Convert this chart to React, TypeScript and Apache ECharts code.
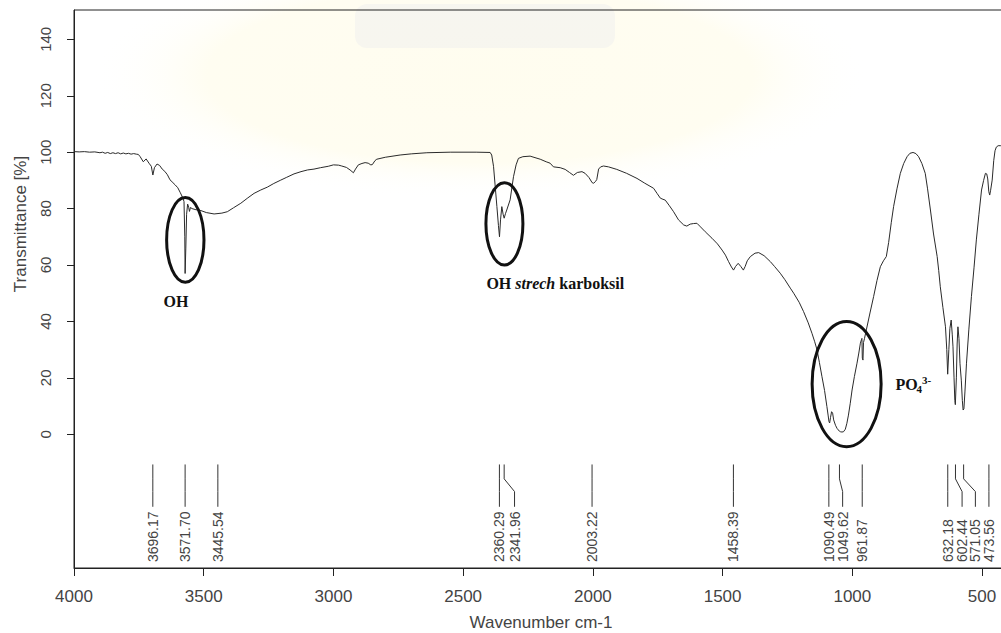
import React, { useEffect, useRef } from "react";
import * as echarts from "echarts";

// FTIR spectrum: wavenumber (cm-1) vs transmittance (%)
const wavenumbers = [
  4000, 3980, 3960, 3940, 3920, 3900, 3890, 3880, 3870, 3860, 3850, 3840, 3830, 3820, 3810, 3800, 3790, 3780, 3770, 3760,
  3752, 3745, 3733, 3722, 3711, 3702, 3696, 3690, 3680, 3670, 3660, 3650, 3640, 3630, 3622, 3610, 3600, 3590, 3581, 3576,
  3573, 3571.7, 3569, 3566, 3562, 3558, 3555, 3551, 3545, 3530, 3511, 3490, 3460, 3430, 3409, 3385, 3357, 3330, 3306, 3280,
  3255, 3230, 3203, 3180, 3152, 3125, 3100, 3075, 3050, 3020, 3000, 2980, 2968, 2950, 2936, 2923, 2915, 2904, 2890, 2878,
  2866, 2856, 2850, 2840, 2833, 2800, 2743, 2700, 2640, 2550, 2450, 2396, 2390, 2383, 2377, 2370, 2364, 2360, 2356, 2351,
  2346, 2342, 2337, 2332, 2319, 2306, 2296, 2287, 2270, 2242, 2203, 2180, 2165, 2152, 2126, 2107, 2090, 2075, 2060, 2042,
  2030, 2015, 2003, 1997, 1990, 1985, 1978, 1970, 1959, 1940, 1908, 1870, 1830, 1800, 1766, 1752, 1740, 1730, 1721, 1705,
  1689, 1670, 1650, 1638, 1625, 1612, 1599, 1585, 1567, 1541, 1520, 1502, 1489, 1477, 1466, 1458, 1450, 1440, 1430, 1420,
  1413, 1405, 1393, 1375, 1361, 1340, 1316, 1300, 1278, 1260, 1239, 1226, 1205, 1188, 1170, 1155.6, 1145, 1136, 1127, 1117,
  1107, 1098, 1093, 1090, 1087.5, 1084, 1080, 1076, 1072, 1065, 1059, 1050, 1046, 1040, 1034, 1027, 1021, 1015, 1008, 1001,
  992, 982, 975, 969, 965, 963, 961.5, 959, 957, 953, 946, 932, 918, 905, 892, 880, 869, 860, 850, 841,
  828, 815, 802, 789, 778, 766, 755, 744.5, 732, 719, 710, 699, 687, 673, 667, 661, 651, 641, 636, 632.5,
  628, 624, 619, 615, 612, 608, 605, 603, 599, 596, 593, 589, 585, 580, 576, 573, 570, 566, 560, 551,
  541, 531, 522, 512, 502, 494, 487, 482, 478, 474, 470.5, 467, 461, 455, 450, 445, 438, 428, 415, 400,
];

const transmittance = [
  100.2, 100.1, 100.2, 100.0, 100.1, 99.8, 100.0, 99.6, 99.9, 99.5, 99.8, 99.5, 99.8, 99.4, 99.7, 99.4, 99.6, 99.3, 99.5, 99.3,
  99.2, 98.4, 96.6, 97.6, 96.1, 95.0, 91.9, 94.5, 95.8, 95.3, 94.0, 93.2, 92.0, 90.2, 89.5, 88.4, 87.4, 85.6, 83.9, 82.5,
  70.0, 57.0, 66.0, 78.0, 81.6, 80.5, 79.0, 80.4, 80.0, 79.6, 79.3, 78.6, 78.1, 78.4, 78.9, 80.3, 81.9, 83.8, 85.4, 86.6,
  87.6, 88.9, 90.1, 91.1, 92.3, 93.1, 93.7, 94.0, 94.5, 95.0, 95.5, 95.4, 95.1, 94.6, 93.7, 92.7, 94.0, 95.5, 96.0, 96.3,
  96.1, 95.5, 95.6, 97.0, 97.5, 98.2, 99.0, 99.4, 99.8, 100.0, 100.0, 99.9, 99.0, 95.0, 88.4, 80.7, 74.0, 70.0, 76.0, 80.7,
  78.0, 76.6, 78.2, 79.5, 83.1, 91.3, 95.5, 97.8, 98.4, 98.6, 97.5, 96.6, 96.1, 94.8, 94.5, 93.9, 92.8, 91.8, 92.8, 93.1,
  92.5, 91.0, 89.2, 89.0, 89.6, 90.3, 94.0, 94.8, 95.1, 94.8, 93.9, 92.5, 90.7, 89.0, 87.2, 85.3, 83.7, 83.3, 83.0, 81.0,
  78.9, 76.0, 74.2, 73.8, 74.5, 74.7, 74.8, 73.5, 71.8, 69.5, 67.5, 65.3, 63.5, 61.2, 59.3, 58.2, 59.5, 60.6, 59.5, 58.2,
  59.5, 61.5, 63.0, 64.2, 64.4, 63.3, 61.2, 59.5, 57.1, 54.8, 51.8, 50.0, 46.8, 43.5, 39.5, 35.8, 32.8, 29.9, 25.5, 20.4,
  15.5, 9.8, 6.5, 4.5, 4.0, 6.0, 8.0, 7.5, 5.1, 3.2, 2.1, 1.1, 0.9, 0.8, 0.9, 1.8, 3.9, 6.8, 11.0, 15.7,
  20.5, 25.2, 28.8, 32.3, 33.5, 34.0, 27.0, 26.3, 32.5, 34.0, 37.0, 43.0, 48.8, 54.5, 59.4, 61.5, 63.0, 68.0, 75.0, 80.7,
  87.0, 92.5, 96.0, 98.4, 99.6, 99.9, 99.5, 98.4, 96.0, 92.5, 87.0, 79.5, 71.0, 63.0, 58.0, 52.3, 45.0, 38.1, 30.0, 21.3,
  30.0, 37.5, 40.5, 35.5, 31.0, 20.0, 12.0, 10.5, 20.0, 32.0, 38.1, 34.0, 25.0, 19.2, 12.0, 8.6, 9.0, 15.0, 25.2, 37.0,
  48.8, 59.0, 68.9, 78.0, 86.6, 90.0, 92.5, 92.3, 90.5, 86.0, 84.8, 86.5, 90.1, 97.0, 100.5, 101.8, 102.3, 102.3, 102.2, 102.0,
];

// Peak picks: position of the peak and where its label sits
const peakWavenumbers = [3696.17, 3571.7, 3445.54, 2360.29, 2341.96, 2003.22, 1458.39, 1090.49, 1049.62, 961.87, 632.18, 602.44, 571.05, 473.56];
const peakLabelAt = [3696.17, 3571.7, 3445.54, 2360.29, 2302, 2003.22, 1458.39, 1090.49, 1037.4, 961.87, 632.18, 577, 525.7, 473.56];
const peakLabels = ["3696.17", "3571.70", "3445.54", "2360.29", "2341.96", "2003.22", "1458.39", "1090.49", "1049.62", "961.87", "632.18", "602.44", "571.05", "473.56"];

// Band highlights (centre wavenumber, centre %T, half width in cm-1, half height in %T)
const bandCenterWn = [3571, 2341, 1022];
const bandCenterT = [68.9, 74.6, 17.8];
const bandHalfWidth = [72, 71.3, 133];
const bandHalfHeight = [15, 14.6, 22.2];

// Band names and where they are written
const bandNames = ["OH", "OH strech karboksil", "PO4"];
const bandNameWn = [3607, 2145, 834];
const bandNameT = [46.9, 53.3, 17.5];

const xTicks = [4000, 3500, 3000, 2500, 2000, 1500, 1000, 500];
const yTicks = [0, 20, 40, 60, 80, 100, 120, 140];

const SANS = '"Liberation Sans", Arial, sans-serif';
const SERIF = '"Liberation Serif", "Times New Roman", serif';

export default function App() {
  const ref = useRef<HTMLDivElement>(null);

  useEffect(() => {
    if (!ref.current) return;
    const chart = echarts.init(ref.current, undefined, { renderer: "svg" });

    const spectrum = wavenumbers.map((w, i) => [w, transmittance[i]]);
    const peaks = peakWavenumbers.map((w, i) => [w, peakLabelAt[i]]);
    const bands = bandCenterWn.map((w, i) => [w, bandCenterT[i], bandHalfWidth[i], bandHalfHeight[i]]);
    const names = bandNameWn.map((w, i) => [w, bandNameT[i]]);

    const glow = new echarts.graphic.RadialGradient(0.5, 0.5, 0.5, [
      { offset: 0, color: "rgba(255,248,205,0.32)" },
      { offset: 0.7, color: "rgba(255,248,205,0.28)" },
      { offset: 1, color: "rgba(255,255,255,0)" },
    ]);

    chart.setOption({
      animation: false,
      backgroundColor: "#ffffff",
      grid: {
        left: 74,
        top: 10,
        right: 0,
        bottom: 65,
        outerBoundsMode: "none",
        containLabel: false,
        show: true,
        borderColor: "#222",
        borderWidth: 1,
        backgroundColor: "transparent",
      },
      graphic: [
        {
          type: "ellipse",
          z: -10,
          silent: true,
          shape: { cx: 480, cy: 75, rx: 390, ry: 125 },
          style: { fill: glow },
        },
        {
          type: "rect",
          z: -9,
          silent: true,
          shape: { x: 355, y: 4, width: 260, height: 44, r: 12 },
          style: { fill: "rgba(220,222,238,0.22)" },
        },
        {
          type: "text",
          x: 20,
          y: 224,
          rotation: Math.PI / 2,
          style: {
            text: "Transmittance [%]",
            font: `17px ${SANS}`,
            fill: "#444",
            align: "center",
            verticalAlign: "middle",
          },
        },
      ],
      xAxis: {
        type: "value",
        min: 400,
        max: 4000,
        inverse: true,
        name: "Wavenumber cm-1",
        nameLocation: "middle",
        nameGap: 46,
        nameTextStyle: { fontFamily: SANS, fontSize: 17, color: "#444" },
        axisLine: { show: true, onZero: false, lineStyle: { color: "#222", width: 1 } },
        axisTick: { show: true, length: 8, customValues: xTicks, lineStyle: { color: "#222" } },
        axisLabel: {
          customValues: xTicks,
          margin: 20,
          fontFamily: SANS,
          fontSize: 17,
          color: "#444",
          formatter: (v: number) => String(v),
        },
        splitLine: { show: false },
      },
      yAxis: {
        type: "value",
        min: -47.4,
        max: 150.4,
        axisLine: { show: true, onZero: false, lineStyle: { color: "#222", width: 1 } },
        axisTick: { show: true, length: 7, customValues: yTicks, lineStyle: { color: "#222" } },
        axisLabel: {
          customValues: yTicks,
          rotate: 90,
          margin: 21,
          fontFamily: SANS,
          fontSize: 15,
          color: "#444",
          formatter: (v: number) => String(v),
        },
        splitLine: { show: false },
      },
      series: [
        {
          type: "line",
          data: spectrum,
          showSymbol: false,
          symbol: "none",
          lineStyle: { color: "#2a2a2a", width: 1 },
          z: 3,
        },
        {
          type: "custom",
          data: peaks,
          z: 2,
          renderItem: (params: any, api: any) => {
            const wn = api.value(0) as number;
            const at = api.value(1) as number;
            const a = api.coord([wn, -10.7]);
            const b = api.coord([wn, -15.8]);
            const c = api.coord([at, -20.3]);
            const d = api.coord([at, -25.7]);
            const t = api.coord([at, -45.3]);
            return {
              type: "group",
              children: [
                {
                  type: "polyline",
                  shape: { points: [a, b, c, d] },
                  style: { stroke: "#333", lineWidth: 1, fill: null },
                },
                {
                  type: "text",
                  x: t[0],
                  y: t[1],
                  rotation: Math.PI / 2,
                  style: {
                    text: peakLabels[params.dataIndex],
                    font: `14px ${SANS}`,
                    fill: "#444",
                    align: "left",
                    verticalAlign: "middle",
                  },
                },
              ],
            };
          },
        },
        {
          type: "custom",
          data: bands,
          z: 4,
          renderItem: (_params: any, api: any) => {
            const c = api.coord([api.value(0), api.value(1)]);
            const s = api.size([api.value(2), api.value(3)]);
            return {
              type: "ellipse",
              shape: { cx: c[0], cy: c[1], rx: Math.abs(s[0]), ry: Math.abs(s[1]) },
              style: { fill: "none", stroke: "#111", lineWidth: 3 },
            };
          },
        },
        {
          type: "custom",
          data: names,
          z: 4,
          renderItem: (params: any, api: any) => {
            const p = api.coord([api.value(0), api.value(1)]);
            const i = params.dataIndex;
            if (i === 2) {
              // PO4 with subscript 4 and superscript 3-
              return {
                type: "group",
                x: p[0],
                y: p[1],
                children: [
                  {
                    type: "text",
                    x: 0,
                    y: 0,
                    style: { text: "PO", font: `bold 16px ${SERIF}`, fill: "#111", align: "left", verticalAlign: "middle" },
                  },
                  {
                    type: "text",
                    x: 21,
                    y: 4,
                    style: { text: "4", font: `bold 11px ${SERIF}`, fill: "#111", align: "left", verticalAlign: "middle" },
                  },
                  {
                    type: "text",
                    x: 26.5,
                    y: -5,
                    style: { text: "3-", font: `bold 11px ${SERIF}`, fill: "#111", align: "left", verticalAlign: "middle" },
                  },
                ],
              };
            }
            if (i === 1) {
              return {
                type: "text",
                x: p[0],
                y: p[1],
                style: {
                  text: "{b|OH }{i|strech}{b| karboksil}",
                  align: "center",
                  verticalAlign: "middle",
                  rich: {
                    b: { font: `bold 16px ${SERIF}`, fill: "#111" },
                    i: { font: `italic bold 16px ${SERIF}`, fill: "#111" },
                  },
                },
              };
            }
            return {
              type: "text",
              x: p[0],
              y: p[1],
              style: {
                text: bandNames[i],
                font: `bold 16px ${SERIF}`,
                fill: "#111",
                align: "center",
                verticalAlign: "middle",
              },
            };
          },
        },
      ],
    });

    return () => chart.dispose();
  }, []);

  return (
    <div
      ref={ref}
      style={{ position: "fixed", left: 0, top: 0, width: 1008, height: 633 }}
    />
  );
}
